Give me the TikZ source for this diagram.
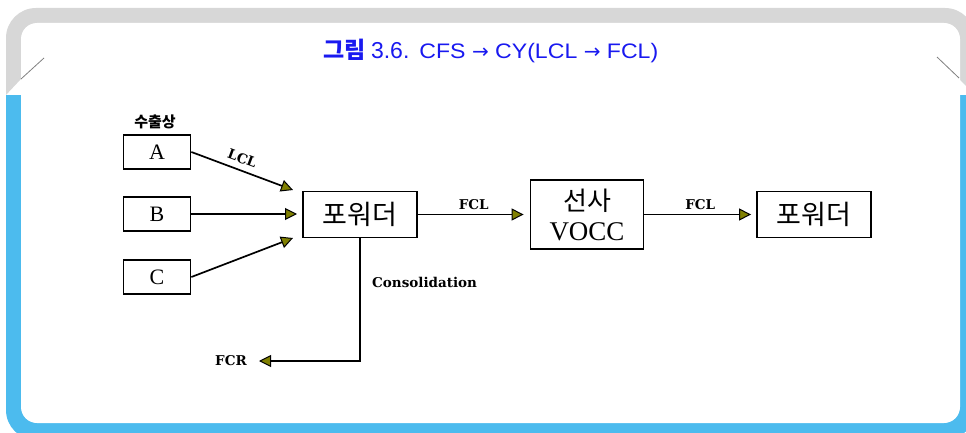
\documentclass[tikz,border=0pt]{standalone}
\usepackage{fontspec}
\usetikzlibrary{arrows.meta,calc}
\setmainfont{Liberation Serif}
\newfontfamily\kr{Noto Sans CJK KR}
\newfontfamily\dvs{DejaVu Serif}
\newfontfamily\dvsans{DejaVu Sans}
\newfontfamily\ttl[FakeStretch=1.1]{Liberation Sans}
\newfontfamily\ttlplain{Liberation Sans}
\definecolor{framegrey}{RGB}{215,215,215}
\definecolor{frameblue}{RGB}{76,187,238}
\definecolor{oliv}{RGB}{128,128,0}
\definecolor{ttlblue}{RGB}{25,25,240}
\newcommand{\tarr}{{\dvsans\fontsize{20}{22}\selectfont →}}
\tikzset{
  boxnode/.style={draw=black, line width=1.8pt, rectangle, inner sep=0pt},
  conn/.style={line width=1.7pt, -{Triangle[length=12pt,width=12pt,fill=oliv,line width=1pt]}},
  lbl/.style={font=\dvs\bfseries\fontsize{13.5}{16}\selectfont, inner sep=1pt},
}
\begin{document}
\begin{tikzpicture}[x=1pt,y=-1pt]
\useasboundingbox (0,0) rectangle (966,433);
% frame
\begin{scope}
  \clip (0,96) rectangle (990,450);
  \fill[frameblue, rounded corners=30pt] (6,8) rectangle (975,440);
\end{scope}
\begin{scope}
  \clip (0,0) -- (990,0) -- (990,96) -- (976,96) -- (959,79) -- (21,79) -- (5,96) -- (0,96) -- cycle;
  \fill[framegrey, rounded corners=30pt] (6,8) rectangle (975,440);
\end{scope}
\fill[white, rounded corners=16pt] (21,23) rectangle (960,423);
\draw[gray, line width=0.8pt] (21,79) -- (44,58);
\draw[gray, line width=0.8pt] (937,57) -- (959,78);
% title
\node[text=ttlblue, inner sep=0pt] (title) at (491,51)
  {{\kr\bfseries\fontsize{23}{26}\selectfont 그림}\hspace{5pt}{\ttlplain\fontsize{23}{26}\selectfont 3.6.}\hspace{10pt}{\ttl\fontsize{21}{24}\selectfont CFS \tarr\ CY(LCL \tarr\ FCL)}};
% nodes
\node[font=\kr\bfseries\fontsize{15}{17}\selectfont, inner sep=0pt] (sup) at (155,122) {수출상};
\node[boxnode, minimum width=67pt, minimum height=34pt, font=\fontsize{22}{24}\selectfont] (A) at (157,152) {A};
\node[boxnode, minimum width=67pt, minimum height=34pt, font=\fontsize{22}{24}\selectfont] (B) at (157,214) {B};
\node[boxnode, minimum width=67pt, minimum height=34pt, font=\fontsize{22}{24}\selectfont] (C) at (157,277) {C};
\node[boxnode, minimum width=114pt, minimum height=46pt, font=\kr\fontsize{27}{30}\selectfont] (fw1) at (360,214.5) {포워더};
\node[boxnode, minimum width=113pt, minimum height=69pt, align=center, font=\fontsize{27}{30}\selectfont] (vocc) at (587,214.5)
  {{\kr\fontsize{26}{30}\selectfont 선사}\\VOCC};
\node[boxnode, minimum width=114pt, minimum height=46pt, font=\kr\fontsize{27}{30}\selectfont] (fw2) at (814,214.5) {포워더};
% free ends
\coordinate (ta) at (293,190);
\coordinate (tb) at (297,214);
\coordinate (tc) at (293,238);
\coordinate (tr) at (259,361);
% connectors
\draw[conn] (A.east) -- node[lbl, sloped, above=5pt, pos=0.46] (lcl) {LCL} (ta);
\draw[conn] (B.east) -- (tb);
\draw[conn] (C.east) -- (tc);
\draw[conn, shorten >=6pt] (fw1.east) -- node[lbl, above=3pt] (fcl1) {FCL} (vocc.west);
\draw[conn, shorten >=5pt] (vocc.east) -- node[lbl, above=3pt] (fcl2) {FCL} (fw2.west);
\draw[conn] (fw1.south) |- (tr);
\node[lbl, anchor=west] (cons) at (371,282) {Consolidation};
\node[lbl] (fcr) at (231,361) {FCR};
\end{tikzpicture}
\end{document}
